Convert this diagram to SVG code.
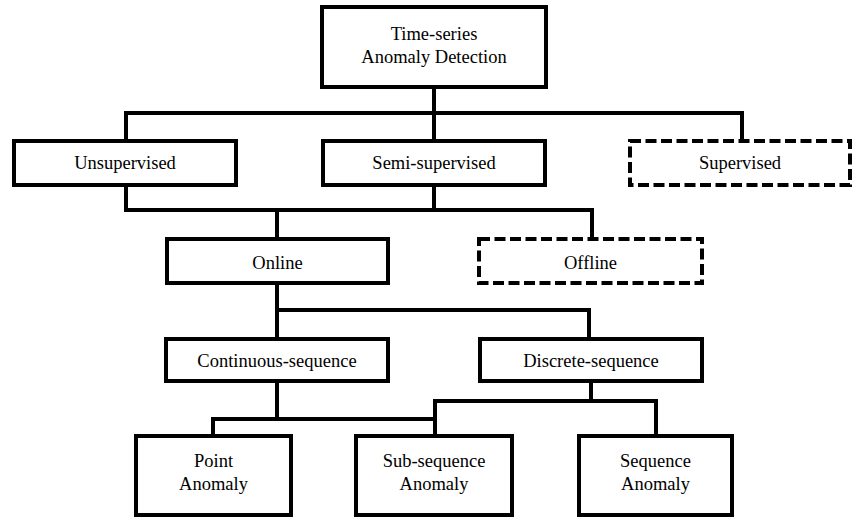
<svg xmlns="http://www.w3.org/2000/svg" width="855" height="518" viewBox="0 0 855 518">
<style>
.box{fill:#fff;stroke:#000;stroke-width:4}
.dash{fill:#fff;stroke:#000;stroke-width:4;stroke-dasharray:11 4.5}
.conn{fill:none;stroke:#000;stroke-width:4;stroke-linejoin:miter;stroke-linecap:butt}
.t{font-size:18.5px;fill:#000;text-anchor:middle}
</style>
<rect width="855" height="518" fill="#fff"/>
<g id="connectors">
<path class="conn" d="M434 89V113M126 139V113H742V139M434 113V139"/>
<path class="conn" d="M126 187V210H592V237M434 187V210M277 210V237"/>
<path class="conn" d="M277 285V337M277 310H589V337"/>
<path class="conn" d="M277 383V419M213 434V419H435M435 434V401H656V434M591 383V401"/>
</g>
<g font-family="'Liberation Serif', 'Times New Roman', 'DejaVu Serif', serif">
<g id="root"><rect class="box" x="322" y="7" width="224" height="80"/><text class="t" x="434" y="40">Time-series</text><text class="t" x="434" y="63">Anomaly Detection</text></g>
<g id="unsupervised"><rect class="box" x="14" y="141" width="222" height="44"/><text class="t" x="125" y="169">Unsupervised</text></g>
<g id="semi-supervised"><rect class="box" x="323" y="141" width="222" height="44"/><text class="t" x="434" y="169">Semi-supervised</text></g>
<g id="supervised"><rect class="dash" x="630" y="141" width="220" height="44"/><text class="t" x="740" y="169">Supervised</text></g>
<g id="online"><rect class="box" x="167" y="239" width="221" height="44"/><text class="t" x="277.5" y="269">Online</text></g>
<g id="offline"><rect class="dash" x="479" y="239" width="223" height="44"/><text class="t" x="590.5" y="269">Offline</text></g>
<g id="continuous"><rect class="box" x="166" y="339" width="222" height="42"/><text class="t" x="277" y="367">Continuous-sequence</text></g>
<g id="discrete"><rect class="box" x="480" y="339" width="222" height="42"/><text class="t" x="591" y="367">Discrete-sequence</text></g>
<g id="point"><rect class="box" x="136" y="436" width="155" height="79"/><text class="t" x="213.5" y="467">Point</text><text class="t" x="213.5" y="490">Anomaly</text></g>
<g id="subsequence"><rect class="box" x="356" y="436" width="156" height="79"/><text class="t" x="434" y="467">Sub-sequence</text><text class="t" x="434" y="490">Anomaly</text></g>
<g id="sequence"><rect class="box" x="579" y="436" width="153" height="79"/><text class="t" x="655.5" y="467">Sequence</text><text class="t" x="655.5" y="490">Anomaly</text></g>
</g>
</svg>
